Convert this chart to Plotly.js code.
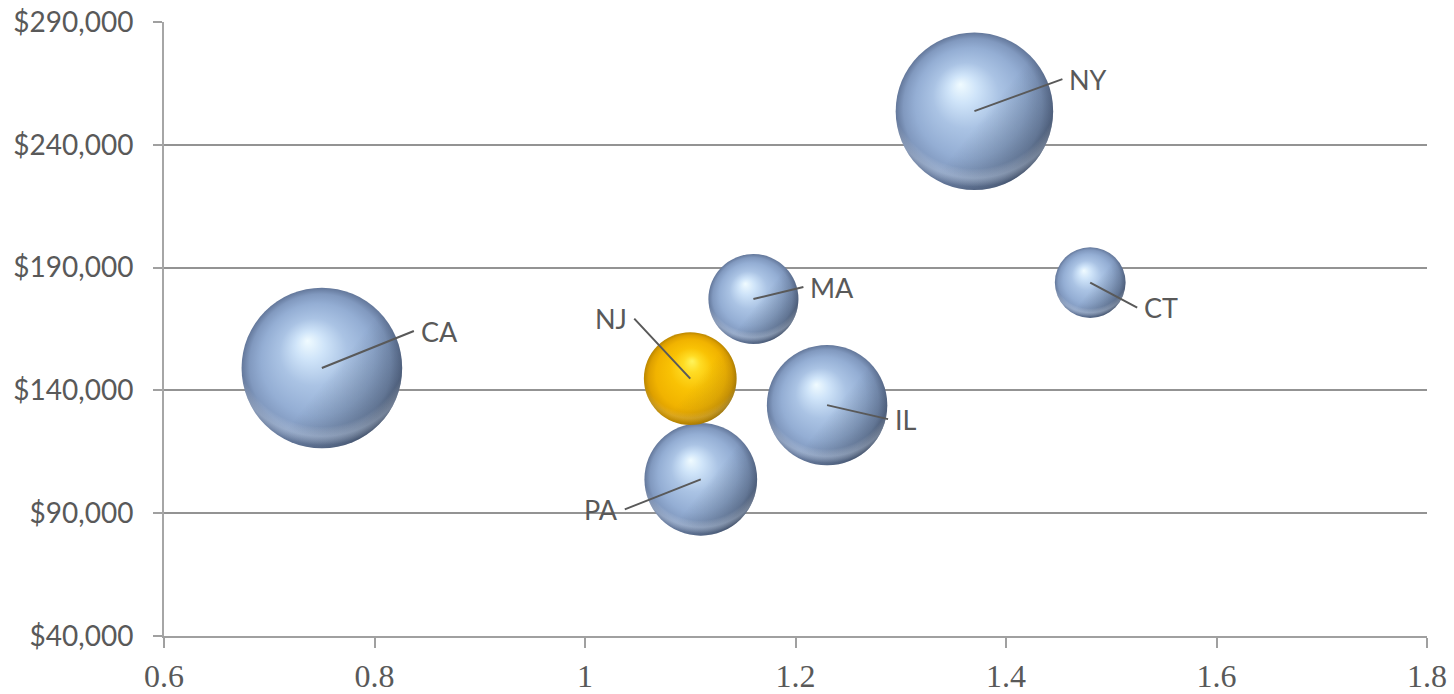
<!DOCTYPE html>
<html>
<head>
<meta charset="utf-8">
<script src="https://cdn.plot.ly/plotly-3.0.1.min.js"></script>
<style>
  html, body { margin: 0; padding: 0; background: #ffffff; }
  #chart { width: 1454px; height: 694px; }
</style>
</head>
<body>
<div id="chart"></div>
<script>
// Bubble data, drawn largest first so smaller bubbles sit on top
const states      = ['CA', 'NY', 'IL', 'PA', 'NJ', 'MA', 'CT'];
const ratio       = [0.75, 1.37, 1.23, 1.11, 1.10, 1.16, 1.48];
const income      = [149100, 253700, 134000, 103800, 144800, 177200, 183900];
const bubbleSize  = [2.58, 2.48, 1.45, 1.27, 0.86, 0.81, 0.50];
const highlighted = 'NJ';

// Axis ticks
const xTicks = [0.6, 0.8, 1, 1.2, 1.4, 1.6, 1.8];
const yTicks = [40000, 90000, 140000, 190000, 240000, 290000];

// Leader-line offsets (pixels from bubble centre to the label edge)
const labelPlacement = {
  CA: { ax: 92, ay: -37, side: 'left' },
  NY: { ax: 88, ay: -32, side: 'left' },
  IL: { ax: 61, ay: 14, side: 'left' },
  PA: { ax: -76, ay: 30, side: 'right' },
  NJ: { ax: -56, ay: -60, side: 'right' },
  MA: { ax: 50, ay: -12, side: 'left' },
  CT: { ax: 47, ay: 25, side: 'left' }
};

const BLUE = '#8fa8cd';
const GOLD = '#f2b700';
const TEXT = '#595959';

const trace = {
  type: 'scatter',
  mode: 'markers',
  x: ratio,
  y: income,
  text: states,
  cliponaxis: false,
  marker: {
    size: bubbleSize,
    sizemode: 'area',
    sizeref: 0.0002,
    color: states.map(s => s === highlighted ? GOLD : BLUE),
    opacity: 1,
    line: { width: 0 }
  },
  hoverinfo: 'skip'
};

const annotations = states.map((s, i) => {
  const p = labelPlacement[s];
  return {
    x: ratio[i],
    y: income[i],
    xref: 'x',
    yref: 'y',
    text: s,
    showarrow: true,
    arrowhead: 0,
    arrowwidth: 2,
    arrowcolor: TEXT,
    standoff: 0,
    ax: p.ax,
    ay: p.ay,
    xanchor: p.side,
    yanchor: 'middle',
    borderpad: 6,
    font: { family: 'Lato, "Open Sans", sans-serif', size: 27, color: TEXT }
  };
});

const layout = {
  width: 1454,
  height: 694,
  margin: { l: 164, r: 27, t: 22, b: 58, pad: 0 },
  paper_bgcolor: '#ffffff',
  plot_bgcolor: '#ffffff',
  showlegend: false,
  xaxis: {
    range: [0.6, 1.8],
    tickmode: 'array',
    tickvals: xTicks,
    ticktext: xTicks.map(v => String(v)),
    showgrid: false,
    zeroline: false,
    showline: true,
    linecolor: '#a0a0a0',
    linewidth: 2,
    ticks: 'outside',
    ticklen: 10,
    tickwidth: 2,
    tickcolor: '#a0a0a0',
    ticklabelstandoff: 1,
    tickfont: { family: 'Liberation Serif, Tinos, serif', size: 32, color: TEXT }
  },
  yaxis: {
    range: [40000, 290000],
    tickmode: 'array',
    tickvals: yTicks,
    ticktext: yTicks.map(v => '$' + v.toLocaleString('en-US')),
    showgrid: true,
    gridcolor: '#939393',
    gridwidth: 2,
    zeroline: false,
    showline: true,
    linecolor: '#a6a6a6',
    linewidth: 2,
    ticks: 'outside',
    ticklen: 9,
    tickwidth: 2,
    tickcolor: '#a0a0a0',
    ticklabelstandoff: 14,
    tickfont: { family: 'Lato, "Open Sans", sans-serif', size: 28, color: TEXT }
  },
  annotations: annotations
};

// Spherical shading applied to the drawn bubble markers
const SVG_NS = 'http://www.w3.org/2000/svg';

function addGradient(defs, kind, id, attrs, stops) {
  const g = document.createElementNS(SVG_NS, kind);
  g.setAttribute('id', id);
  Object.keys(attrs).forEach(k => g.setAttribute(k, attrs[k]));
  stops.forEach(([off, col, op]) => {
    const s = document.createElementNS(SVG_NS, 'stop');
    s.setAttribute('offset', off);
    s.setAttribute('stop-color', col);
    s.setAttribute('stop-opacity', op === undefined ? 1 : op);
    g.appendChild(s);
  });
  defs.appendChild(g);
}

function overlay(p, fill) {
  const layer = p.cloneNode(false);
  layer.style.fill = fill;
  layer.style.stroke = 'none';
  p.parentNode.insertBefore(layer, p.nextSibling);
  return layer;
}

Plotly.newPlot('chart', [trace], layout, { staticPlot: true, displayModeBar: false }).then(gd => {
  const svg = gd.querySelector('svg.main-svg');
  let defs = svg.querySelector('defs');
  if (!defs) {
    defs = document.createElementNS(SVG_NS, 'defs');
    svg.insertBefore(defs, svg.firstChild);
  }
  addGradient(defs, 'radialGradient', 'sphere-blue',
    { cx: '50%', cy: '50%', r: '50%', fx: '41%', fy: '33%' }, [
    [0, '#f0fbff'], [0.18, '#cfe4f9'], [0.42, '#aac3e4'], [0.7, '#94aed4'],
    [0.88, '#8199bf'], [1, '#63779a']
  ]);
  addGradient(defs, 'radialGradient', 'sphere-gold',
    { cx: '50%', cy: '50%', r: '50%', fx: '52%', fy: '31%' }, [
    [0, '#fff45c'], [0.18, '#ffdc24'], [0.45, '#f9c204'], [0.75, '#f1b300'],
    [0.9, '#dea000'], [1, '#bb8700']
  ]);
  // darkening toward the lower right of each sphere
  addGradient(defs, 'linearGradient', 'sphere-shade',
    { x1: '0', y1: '0.1', x2: '1', y2: '0.9' }, [
    [0, '#1a2330', 0], [0.55, '#1a2330', 0], [0.82, '#1a2330', 0.3], [1, '#1a2330', 0.7]
  ]);
  // soft reflected light just inside the lower rim
  addGradient(defs, 'radialGradient', 'sphere-glow',
    { cx: '50%', cy: '32%', r: '68%' }, [
    [0, '#ffffff', 0], [0.8, '#ffffff', 0], [0.89, '#dfeaf8', 0.3], [0.97, '#ffffff', 0]
  ]);

  const points = gd.querySelectorAll('.scatterlayer .trace path.point');
  points.forEach((p, i) => {
    const isGold = states[i] === highlighted;
    p.style.fill = isGold ? 'url(#sphere-gold)' : 'url(#sphere-blue)';
    const shade = overlay(p, 'url(#sphere-shade)');
    if (isGold) shade.style.opacity = 0.4;
    overlay(shade, 'url(#sphere-glow)');
  });
});
</script>
</body>
</html>
